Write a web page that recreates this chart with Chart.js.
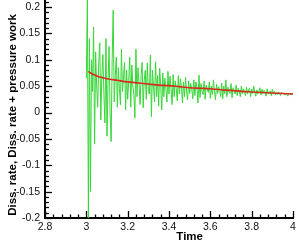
<!DOCTYPE html>
<html>
<head>
<meta charset="utf-8">
<script src="https://cdn.jsdelivr.net/npm/chart.js@4/dist/chart.umd.min.js"></script>
<style>
html,body{margin:0;padding:0;background:#fff;}
#wrap{width:299px;height:245px;}
</style>
</head>
<body>
<div id="wrap"><canvas id="c" width="299" height="245"></canvas></div>
<script>
// ---- data ----
const xTickLabels = [2.8, 3.0, 3.2, 3.4, 3.6, 3.8, 4.0];
const yTickLabels = [-0.2, -0.15, -0.1, -0.05, 0, 0.05, 0.1, 0.15, 0.2];
const xTitle = "Time";
const yTitle = "Diss. rate, Diss. rate + pressure work";

// smooth (red) series: time, value
const redTime  = [3.01, 3.02, 3.04, 3.06, 3.08, 3.10, 3.15, 3.20, 3.25, 3.30, 3.35, 3.40, 3.45, 3.50, 3.55, 3.60, 3.65, 3.70, 3.75, 3.80, 3.85, 3.90, 3.95, 4.00];
const redValue = [0.078, 0.075, 0.071, 0.068, 0.066, 0.064, 0.061, 0.058, 0.056, 0.054, 0.052, 0.051, 0.049, 0.047, 0.046, 0.045, 0.043, 0.042, 0.040, 0.039, 0.038, 0.037, 0.036, 0.035];

// noisy (green) series, sampled every 0.005 from t = 3.000
const greenStart = 3.0;
const greenStep = 0.005;
const greenValue = [
 0.065, 0.215,-0.200, 0.140,-0.150, 0.100, 0.040, 0.162,-0.060, 0.115,
 0.050, 0.010, 0.095, 0.132,-0.014, 0.070, 0.110, 0.035,-0.020, 0.140,
-0.045, 0.060, 0.125, 0.000,-0.055, 0.100, 0.194, 0.020, 0.070, 0.105,
 0.010, 0.085, 0.045, 0.015, 0.120, 0.040, 0.070, 0.095, 0.005, 0.080,
 0.025, 0.060, 0.105, 0.010, 0.090, 0.050, 0.035,-0.010, 0.120, 0.030,
 0.085, 0.055, 0.015, 0.070, 0.095, 0.009, 0.060, 0.080, 0.025, 0.094,
 0.040, 0.035, 0.109,-0.008, 0.080, 0.050, 0.020, 0.096, 0.030, 0.070,
 0.012, 0.084, 0.050, 0.005, 0.075, 0.030, 0.065, 0.045, 0.020, 0.078,
 0.035, 0.069, 0.045, 0.015, 0.072, 0.030, 0.060, 0.045, 0.022, 0.070,
 0.035, 0.064, 0.050, 0.018, 0.058, 0.030, 0.067, 0.040, 0.024, 0.060,
 0.036, 0.055, 0.045, 0.026, 0.062, 0.032, 0.058, 0.048, 0.018, 0.071,
 0.028, 0.055, 0.040, 0.034, 0.060, 0.025, 0.052, 0.045, 0.038, 0.058,
 0.027, 0.050, 0.034, 0.062, 0.040, 0.024, 0.054, 0.036, 0.049, 0.042,
 0.030, 0.056, 0.026, 0.050, 0.036, 0.062, 0.030, 0.048, 0.040, 0.036,
 0.055, 0.028, 0.047, 0.042, 0.035, 0.052, 0.032, 0.046, 0.040, 0.030,
 0.050, 0.036, 0.045, 0.040, 0.032, 0.048, 0.035, 0.043, 0.046, 0.030,
 0.044, 0.036, 0.050, 0.038, 0.031, 0.043, 0.035, 0.040, 0.047, 0.033,
 0.044, 0.036, 0.042, 0.038, 0.031, 0.045, 0.035, 0.037, 0.041, 0.032,
 0.044, 0.036, 0.040, 0.033, 0.037, 0.034, 0.039, 0.036, 0.032, 0.038,
 0.035, 0.037, 0.033, 0.036, 0.034, 0.031, 0.037, 0.035, 0.033, 0.036,
 0.035
];

// ---- build datasets ----
const redData = redTime.map((t, i) => ({x: t, y: redValue[i]}));
const greenData = greenValue.map((v, i) => ({x: +(greenStart + i * greenStep).toFixed(3), y: v}));

const FONT = "'Liberation Sans', Arial, Helvetica, sans-serif";

const fmt = v => String(Math.round(v * 100) / 100);

const axisDecor = {
  id: 'axisDecor',
  afterDraw(chart) {
    const ctx = chart.ctx;
    const xs = chart.scales.x, ys = chart.scales.y;
    const ca = chart.chartArea;
    ctx.save();
    ctx.strokeStyle = '#000';
    ctx.lineWidth = 1.3;
    // x ticks (inside, pointing up)
    for (let k = 0; k <= 30; k++) {
      const v = 2.8 + k * 0.04;
      const px = Math.round(xs.getPixelForValue(v)) + 0.5;
      const major = k % 5 === 0;
      const len = major ? 7 : 3.5;
      ctx.beginPath();
      ctx.moveTo(px, ca.bottom);
      ctx.lineTo(px, ca.bottom - len);
      ctx.stroke();
    }
    // y ticks (inside, pointing right)
    for (let k = 0; k <= 41; k++) {
      const v = -0.2 + k * 0.01;
      const py = Math.round(ys.getPixelForValue(v)) + 0.5;
      if (py < ca.top) continue;
      const major = k % 5 === 0;
      const len = major ? 7 : 4;
      ctx.beginPath();
      ctx.moveTo(ca.left, py);
      ctx.lineTo(ca.left + len, py);
      ctx.stroke();
    }
    // titles
    ctx.fillStyle = '#000';
    ctx.font = 'bold 11.5px ' + FONT;
    ctx.textAlign = 'center';
    ctx.textBaseline = 'alphabetic';
    ctx.fillText(xTitle, xs.getPixelForValue(3.5), 240);
    ctx.translate(15.5, 115);
    ctx.rotate(-Math.PI / 2);
    ctx.fillText(yTitle, 0, 0);
    ctx.restore();
  }
};

new Chart(document.getElementById('c'), {
  type: 'line',
  data: {
    datasets: [
      {
        label: 'Diss. rate + pressure work',
        data: redData,
        borderColor: 'rgb(215,45,30)',
        borderWidth: 1.6,
        pointRadius: 0,
        tension: 0.3,
        fill: false
      },
      {
        label: 'Diss. rate',
        data: greenData,
        borderColor: 'rgb(55,215,55)',
        borderWidth: 1,
        pointRadius: 0,
        tension: 0,
        fill: false
      }
    ]
  },
  options: {
    responsive: false,
    animation: false,
    devicePixelRatio: 1,
    layout: {padding: {top: 0, right: 6, bottom: 0, left: 0}},
    plugins: {legend: {display: false}, tooltip: {enabled: false}, title: {display: false}},
    scales: {
      x: {
        type: 'linear',
        min: 2.8, max: 4.0,
        afterBuildTicks: s => { s.ticks = xTickLabels.map(v => ({value: v})); },
        afterFit: s => { s.height = 27; s.paddingLeft = 0; s.paddingRight = 0; },
        grid: {display: false, drawTicks: false, tickLength: 0},
        border: {display: true, color: '#000', width: 2},
        ticks: {
          callback: v => fmt(v),
          color: '#111',
          font: {family: FONT, size: 10.5},
          padding: 3,
          maxRotation: 0,
          autoSkip: false
        },
        title: {display: false}
      },
      y: {
        type: 'linear',
        min: -0.2, max: 0.2133,
        afterBuildTicks: s => { s.ticks = yTickLabels.map(v => ({value: v})); },
        afterFit: s => { s.width = 45; s.paddingTop = 0; s.paddingBottom = 0; },
        grid: {display: false, drawTicks: false, tickLength: 0},
        border: {display: true, color: '#000', width: 2},
        ticks: {
          callback: v => fmt(v),
          color: '#111',
          font: {family: FONT, size: 10.5},
          padding: 5,
          autoSkip: false
        },
        title: {display: false}
      }
    }
  },
  plugins: [axisDecor]
});
</script>
</body>
</html>
